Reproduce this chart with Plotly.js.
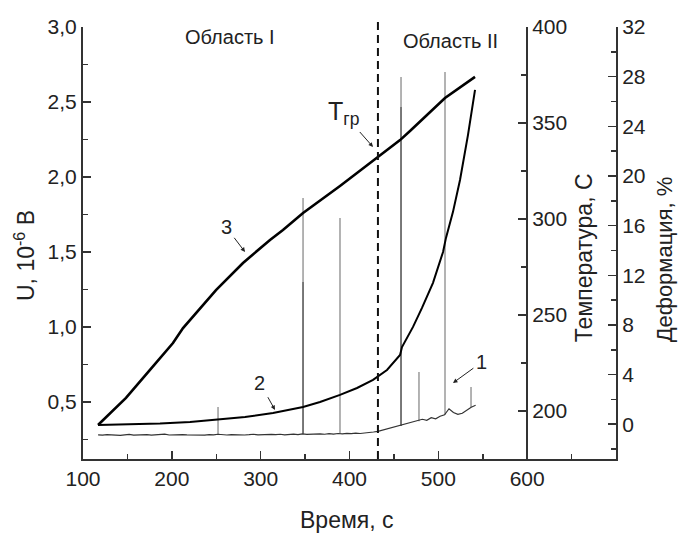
<!DOCTYPE html>
<html><head><meta charset="utf-8">
<script src="https://cdn.plot.ly/plotly-3.0.1.min.js"></script>
<style>html,body{margin:0;padding:0;background:#fff;} #chart{width:678px;height:534px;}</style>
</head><body><div id="chart"></div>
<script>
// Curve 1: signal U (10^-6 V), sampled every 5 s starting at 117 s
const signalStart = 117;
const signalStep = 5;
const signalU = [
  0.281,0.279,0.283,0.280,0.282,0.278,0.281,0.284,0.279,0.281,
  0.280,0.283,0.279,0.282,0.281,0.286,0.280,0.282,0.279,0.283,
  0.281,0.280,0.284,0.281,0.279,0.283,0.281,0.285,0.282,0.280,
  0.283,0.281,0.284,0.280,0.282,0.285,0.281,0.283,0.280,0.284,
  0.282,0.285,0.281,0.283,0.286,0.282,0.288,0.284,0.286,0.283,
  0.287,0.285,0.289,0.286,0.290,0.287,0.291,0.289,0.293,0.290,
  0.295,0.297,0.300,0.304,0.312,0.318,0.325,0.333,0.340,0.350,
  0.356,0.365,0.372,0.385,0.378,0.395,0.388,0.405,0.415,0.455,
  0.430,0.418,0.425,0.445,0.465,0.478
];
// Acoustic spikes on curve 1
const spikeTime = [252, 347.7, 389.3, 458, 478.2, 507.5, 536.8];
const spikeBase = [0.283, 0.288, 0.290, 0.340, 0.372, 0.415, 0.465];
const spikeTop  = [0.467, 1.86, 1.727, 2.667, 0.70, 2.70, 0.60];
const spikeDarkTime = [347.7, 458];
const spikeDarkBase = [0.288, 0.340];
const spikeDarkTop  = [1.30, 2.467];

// Curve 2: deformation, %
const defTime  = [116.9,152.9,186.7,220.5,249.7,282.4,313.9,347.7,366.8,389.3,408.5,426.5,442.2,456.9,459.1,471.5,481.6,494.0,505.3,508.6,516.5,524.4,533.4,541.3];
const defValue = [-0.06,-0.02,0.06,0.18,0.34,0.58,0.91,1.39,1.79,2.36,2.92,3.57,4.37,5.58,6.22,7.84,9.37,11.39,13.88,15.01,17.11,19.68,23.31,26.93];

// Curve 3: temperature, C
const tempTime  = [116.9,148.4,175.4,201.3,212.6,249.7,280.1,310.5,325.1,347.7,389.3,431.0,456.9,468.1,507.5,541.3];
const tempValue = [192.7,206.8,221.4,235.4,243.2,263.0,277.1,289.1,294.3,303.1,317.2,331.8,341.1,345.8,363.0,374.0];

const boundaryTime = 432;
const xTicks = [100,200,300,400,500,600];

function spikeTrace(xs, b, t) {
  const x = [], y = [];
  xs.forEach((v, i) => { x.push(v, v, null); y.push(b[i], t[i], null); });
  return {x, y};
}
const sp = spikeTrace(spikeTime, spikeBase, spikeTop);
const spd = spikeTrace(spikeDarkTime, spikeDarkBase, spikeDarkTop);

const FONT = 'Liberation Sans, Arial, sans-serif';
const AX = '#333';

const traces = [
  {x: sp.x, y: sp.y, mode:'lines', line:{color:'#9a9a9a', width:1.5}, yaxis:'y', hoverinfo:'skip'},
  {x: spd.x, y: spd.y, mode:'lines', line:{color:'#666', width:1.5}, yaxis:'y', hoverinfo:'skip'},
  {x0: signalStart, dx: signalStep, y: signalU, mode:'lines', line:{color:'#333', width:1.2}, yaxis:'y'},
  {x: defTime, y: defValue, mode:'lines', line:{color:'#000', width:2}, yaxis:'y3'},
  {x: tempTime, y: tempValue, mode:'lines', line:{color:'#000', width:2.6}, yaxis:'y2'}
];

const tickCommon = {ticks:'inside', ticklen:8, tickwidth:1.5, tickcolor:AX, showline:true, linewidth:2, linecolor:AX,
  showgrid:false, zeroline:false, tickfont:{size:21, color:'#222'}};

const arrowStyle = {showarrow:true, arrowhead:2, arrowsize:0.9, arrowwidth:1, arrowcolor:'#222', startstandoff:2};

const layout = {
  width:678, height:534, showlegend:false,
  margin:{l:83, r:62, t:27, b:75, pad:0},
  paper_bgcolor:'#fff', plot_bgcolor:'#fff',
  font:{family:FONT, color:'#222'},
  separators:', ',
  xaxis: Object.assign({}, tickCommon, {range:[100,700], tickvals:xTicks, ticktext:xTicks.map(String),
    minor:{dtick:50, tick0:0, ticks:'inside', ticklen:5, tickwidth:1.5, tickcolor:AX}}),
  yaxis: Object.assign({}, tickCommon, {range:[0.12,3.0], dtick:0.5, tick0:0, tickformat:'.1f',
    minor:{dtick:0.25, tick0:0, ticks:'inside', ticklen:5, tickwidth:1.5, tickcolor:AX}}),
  yaxis2: Object.assign({}, tickCommon, {overlaying:'y', anchor:'free', position:0.833, side:'right',
    range:[175,400], dtick:50, tick0:0,
    minor:{dtick:25, tick0:0, ticks:'inside', ticklen:5, tickwidth:1.5, tickcolor:AX}}),
  yaxis3: Object.assign({}, tickCommon, {overlaying:'y', anchor:'x', side:'right',
    range:[-2.8,32], dtick:4, tick0:0,
    minor:{dtick:2, tick0:0, ticks:'inside', ticklen:5, tickwidth:1.5, tickcolor:AX}}),
  shapes: [
    {type:'line', xref:'x', yref:'paper', x0:boundaryTime, x1:boundaryTime, y0:0, y1:1.016,
     line:{color:'#111', width:2, dash:'8px,5px'}, layer:'above'}
  ],
  annotations: [
    {text:'U, 10<sup>-6</sup> В', xref:'paper', yref:'paper', x:-0.109, y:0.472, textangle:-90, showarrow:false, font:{size:23}, xanchor:'center', yanchor:'middle'},
    {text:'Температура, С', xref:'paper', yref:'paper', x:0.940, y:0.465, textangle:-90, showarrow:false, font:{size:23}, xanchor:'center', yanchor:'middle'},
    {text:'Деформация, %', xref:'paper', yref:'paper', x:1.091, y:0.461, textangle:-90, showarrow:false, font:{size:22}, xanchor:'center', yanchor:'middle'},
    {text:'Время, с', xref:'paper', yref:'paper', x:0.495, y:-0.141, showarrow:false, font:{size:23}, xanchor:'center', yanchor:'middle'},
    {text:'Область I', xref:'x', yref:'paper', x:265.5, y:0.977, showarrow:false, font:{size:20}, xanchor:'center', yanchor:'middle'},
    {text:'Область II', xref:'x', yref:'paper', x:513.2, y:0.968, showarrow:false, font:{size:20}, xanchor:'center', yanchor:'middle'},
    Object.assign({text:'T<sub>гр</sub>', xref:'x', yref:'y', x:426.5, y:2.2, ax:-30, ay:-34, font:{size:25}}, arrowStyle),
    Object.assign({text:'3', xref:'x', yref:'y', x:282.4, y:1.50, ax:-19, ay:-25, font:{size:20}}, arrowStyle),
    Object.assign({text:'2', xref:'x', yref:'y', x:316.1, y:0.447, ax:-15, ay:-27, font:{size:20}}, arrowStyle),
    Object.assign({text:'1', xref:'x', yref:'y', x:516.5, y:0.627, ax:29, ay:-21, font:{size:20}}, arrowStyle)
  ]
};

Plotly.newPlot('chart', traces, layout, {staticPlot:true, displayModeBar:false});
</script></body></html>
